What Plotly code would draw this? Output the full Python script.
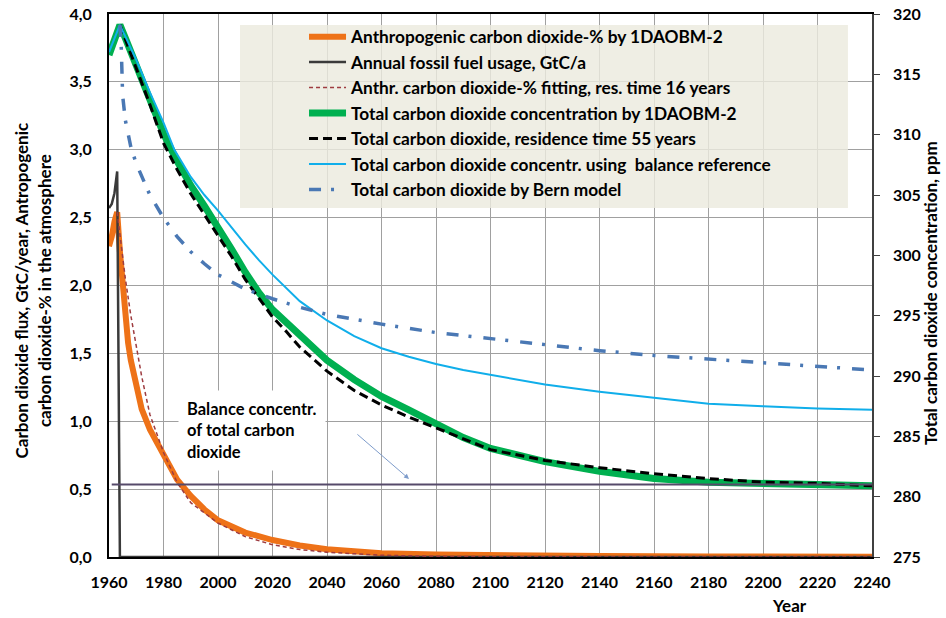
import plotly.graph_objects as go

# ---------------- data ----------------
# Anthropogenic CO2-% by 1DAOBM-2 (left axis)
anthro_years = [1960, 1961, 1962, 1963, 1964, 1965, 1966, 1967, 1968, 1970, 1972, 1975,
                1980, 1985, 1990, 1995, 2000, 2010, 2020, 2030, 2040, 2050, 2060, 2080,
                2100, 2140, 2180, 2240]
anthro_vals = [2.29, 2.36, 2.47, 2.54, 2.25, 1.98, 1.76, 1.58, 1.45, 1.25, 1.09, 0.94,
               0.75, 0.57, 0.45, 0.35, 0.27, 0.18, 0.125, 0.085, 0.057, 0.04, 0.028, 0.018,
               0.012, 0.007, 0.004, 0.002]

# Annual fossil fuel usage, GtC/a (left axis)
fossil_years = [1960, 1961, 1962, 1963, 1964, 2240]
fossil_vals = [2.57, 2.60, 2.68, 2.84, 0.0, 0.0]

# Anthr. CO2-% fitting, residence time 16 years (left axis)
fit16_years = [1963, 1964, 1966, 1968, 1970, 1972, 1975, 1980, 1985, 1990, 2000, 2010,
               2020, 2030, 2040, 2060, 2080, 2100, 2150, 2240]
fit16_vals = [2.54, 2.38, 2.05, 1.78, 1.55, 1.33, 1.05, 0.77, 0.55, 0.40, 0.25, 0.15,
              0.09, 0.055, 0.035, 0.013, 0.005, 0.002, 0.0005, 0.0]

# Total CO2 concentration by 1DAOBM-2 (right axis, ppm)
total_years = [1960, 1962, 1964, 1966, 1968, 1970, 1975, 1980, 1985, 1990, 1995, 2000,
               2005, 2010, 2015, 2020, 2030, 2040, 2050, 2060, 2070, 2080, 2090, 2100,
               2120, 2140, 2160, 2180, 2200, 2220, 2240]
total_ppm = [316.6, 317.9, 319.1, 318.0, 316.9, 315.8, 313.0, 310.1, 307.8, 305.8, 304.1, 302.4,
             300.5, 298.6, 296.9, 295.5, 293.3, 291.3, 289.7, 288.3, 287.2, 286.0, 284.9, 284.0,
             282.9, 282.1, 281.5, 281.2, 281.1, 281.0, 280.9]

# Total CO2, residence time 55 years (right axis, ppm)
res55_years = [1964, 1970, 1975, 1980, 1985, 1990, 1995, 2000, 2005, 2010, 2015, 2020,
               2025, 2030, 2040, 2050, 2060, 2070, 2080, 2090, 2100, 2120, 2140, 2160,
               2180, 2200, 2220, 2240]
res55_ppm = [319.1, 315.5, 312.5, 309.3, 307.1, 305.1, 303.4, 301.6, 299.9, 298.0, 296.4, 294.9,
             293.7, 292.4, 290.4, 288.8, 287.6, 286.6, 285.7, 284.8, 283.9, 283.0, 282.4, 281.9,
             281.5, 281.2, 281.1, 280.9]

# Total CO2 concentr. using balance reference (right axis, ppm)
balref_years = [1960, 1962, 1964, 1970, 1975, 1980, 1984, 1990, 1995, 2000, 2005, 2010,
                2015, 2020, 2030, 2040, 2050, 2060, 2070, 2080, 2090, 2100, 2120, 2140,
                2160, 2180, 2200, 2220, 2240]
balref_ppm = [316.85, 318.0, 319.1, 316.2, 313.5, 311.0, 308.75, 306.5, 305.0, 303.7, 302.3, 300.9,
              299.6, 298.4, 296.2, 294.6, 293.3, 292.3, 291.6, 291.0, 290.5, 290.1, 289.3, 288.7,
              288.2, 287.7, 287.5, 287.3, 287.2]

# Total CO2 by Bern model (right axis, ppm)
bern_years = [1964, 1964.5, 1965, 1966, 1968, 1970, 1975, 1980, 1985, 1990, 1995, 2000,
              2010, 2020, 2030, 2040, 2050, 2060, 2080, 2100, 2120, 2140, 2160, 2180,
              2200, 2220, 2240]
bern_ppm = [319.1, 317.2, 313.25, 311.2, 309.0, 307.6, 305.0, 303.1, 301.55, 300.3, 299.3, 298.4,
            297.2, 296.4, 295.7, 295.1, 294.7, 294.3, 293.6, 293.1, 292.55, 292.1, 291.7, 291.4,
            291.05, 290.75, 290.5]

# Balance concentration of total CO2 (right axis, ppm)
balance_years = [1961, 2240]
balance_ppm = [281.0, 281.0]

# axes
x_ticks = list(range(1960, 2241, 20))
left_ticks = [0.0, 0.5, 1.0, 1.5, 2.0, 2.5, 3.0, 3.5, 4.0]
right_ticks = list(range(275, 321, 5))

FONT = "Lato"

fig = go.Figure()

fig.add_trace(go.Scatter(x=anthro_years, y=anthro_vals, mode="lines",
                         name="Anthropogenic carbon dioxide-% by 1DAOBM-2",
                         line=dict(color="#EE7218", width=6)))
fig.add_trace(go.Scatter(x=fossil_years, y=fossil_vals, mode="lines",
                         name="Annual fossil fuel usage, GtC/a",
                         line=dict(color="#3A3A3A", width=2.5)))
fig.add_trace(go.Scatter(x=fit16_years, y=fit16_vals, mode="lines",
                         name="Anthr. carbon dioxide-% fitting, res. time 16 years",
                         line=dict(color="#9E3C40", width=1.5, dash="4px,3px")))
fig.add_trace(go.Scatter(x=total_years, y=total_ppm, mode="lines", yaxis="y2",
                         name="Total carbon dioxide concentration by 1DAOBM-2",
                         line=dict(color="#00B050", width=7)))
fig.add_trace(go.Scatter(x=res55_years, y=res55_ppm, mode="lines", yaxis="y2",
                         name="Total carbon dioxide, residence time 55 years",
                         line=dict(color="#000000", width=3, dash="9px,5px")))
fig.add_trace(go.Scatter(x=balref_years, y=balref_ppm, mode="lines", yaxis="y2",
                         name="Total carbon dioxide concentr. using  balance reference",
                         line=dict(color="#10AEEA", width=2)))
fig.add_trace(go.Scatter(x=bern_years, y=bern_ppm, mode="lines", yaxis="y2",
                         name="Total carbon dioxide by Bern model",
                         line=dict(color="#4A78B4", width=3.5, dash="12px,10px,3px,12px")))
fig.add_trace(go.Scatter(x=balance_years, y=balance_ppm, mode="lines", yaxis="y2",
                         showlegend=False, hoverinfo="skip",
                         line=dict(color="#564A6A", width=2)))

tickfont = dict(family=FONT, size=16, color="black", weight="bold")

fig.update_layout(
    width=946, height=618,
    margin=dict(l=109, r=74, t=14, b=61, autoexpand=False),
    paper_bgcolor="white", plot_bgcolor="white",
    separators=",.",
    font=dict(family=FONT, color="black"),
    xaxis=dict(range=[1960, 2240], tickvals=x_ticks, showgrid=True, gridcolor="#A0A0A0",
               gridwidth=1, showline=True, linecolor="black", linewidth=2, mirror=True,
               ticks="", tickfont=tickfont, zeroline=False, automargin=False,
               ticklabelstandoff=10, ticklabeloverflow="allow"),
    yaxis=dict(range=[0, 4], tickvals=left_ticks, tickformat=".1f", showgrid=True,
               gridcolor="#A0A0A0", gridwidth=1, showline=True, linecolor="black",
               linewidth=2, ticks="", tickfont=tickfont, zeroline=False, automargin=False,
               ticklabelstandoff=12, ticklabeloverflow="allow"),
    yaxis2=dict(range=[275, 320], tickvals=right_ticks, overlaying="y", side="right",
                showgrid=False, showline=True, linecolor="#404040", linewidth=1.5,
                ticks="outside", ticklen=6, tickcolor="#404040", tickfont=tickfont,
                zeroline=False, automargin=False, ticklabelstandoff=10,
                ticklabeloverflow="allow"),
    legend=dict(x=0.2556, y=0.991, xanchor="left", yanchor="top",
                bgcolor="rgba(0,0,0,0)", borderwidth=0, itemwidth=37,
                font=dict(family=FONT, size=17.3, color="black", weight="bold"),
                tracegroupgap=0),
    shapes=[dict(type="rect", xref="paper", yref="paper",
                 x0=0.1717, x1=0.9685, y0=0.6427, y1=0.9797,
                 fillcolor="rgba(236,234,222,0.82)", line=dict(width=0), layer="above")],
    annotations=[
        dict(text="<b>Carbon dioxide flux, GtC/year, Antropogenic<br>carbon dioxide-% in the atmosphere</b>",
             xref="paper", yref="paper", x=-0.1003, y=0.4917, textangle=-90,
             xanchor="center", yanchor="middle", align="center", showarrow=False,
             font=dict(family=FONT, size=17, color="black")),
        dict(text="<b>Total carbon dioxide concentration, ppm</b>",
             xref="paper", yref="paper", x=1.076, y=0.486, textangle=-90,
             xanchor="center", yanchor="middle", showarrow=False,
             font=dict(family=FONT, size=17, color="black")),
        dict(text="<b>Balance concentr.<br>of total carbon<br>dioxide</b>", xref="x", yref="y",
             x=1985.3, y=0.935, xanchor="left", yanchor="middle", align="left",
             showarrow=False, bgcolor="white", borderpad=8,
             font=dict(family=FONT, size=16.5, color="black")),
        dict(text="", xref="x", yref="y", axref="x", ayref="y",
             x=2070.1, y=0.575, ax=2050.6, ay=0.913, showarrow=True,
             arrowhead=2, arrowsize=1, arrowwidth=1, arrowcolor="#7E9CCB"),
        dict(text="<b>Year</b>", xref="paper", yref="paper", x=0.8925, y=-0.09,
             xanchor="center", yanchor="middle", showarrow=False,
             font=dict(family=FONT, size=17, color="black")),
    ],
)

fig.write_html("out.html", config={"displayModeBar": False},
               post_script="document.body.style.margin='0';")
